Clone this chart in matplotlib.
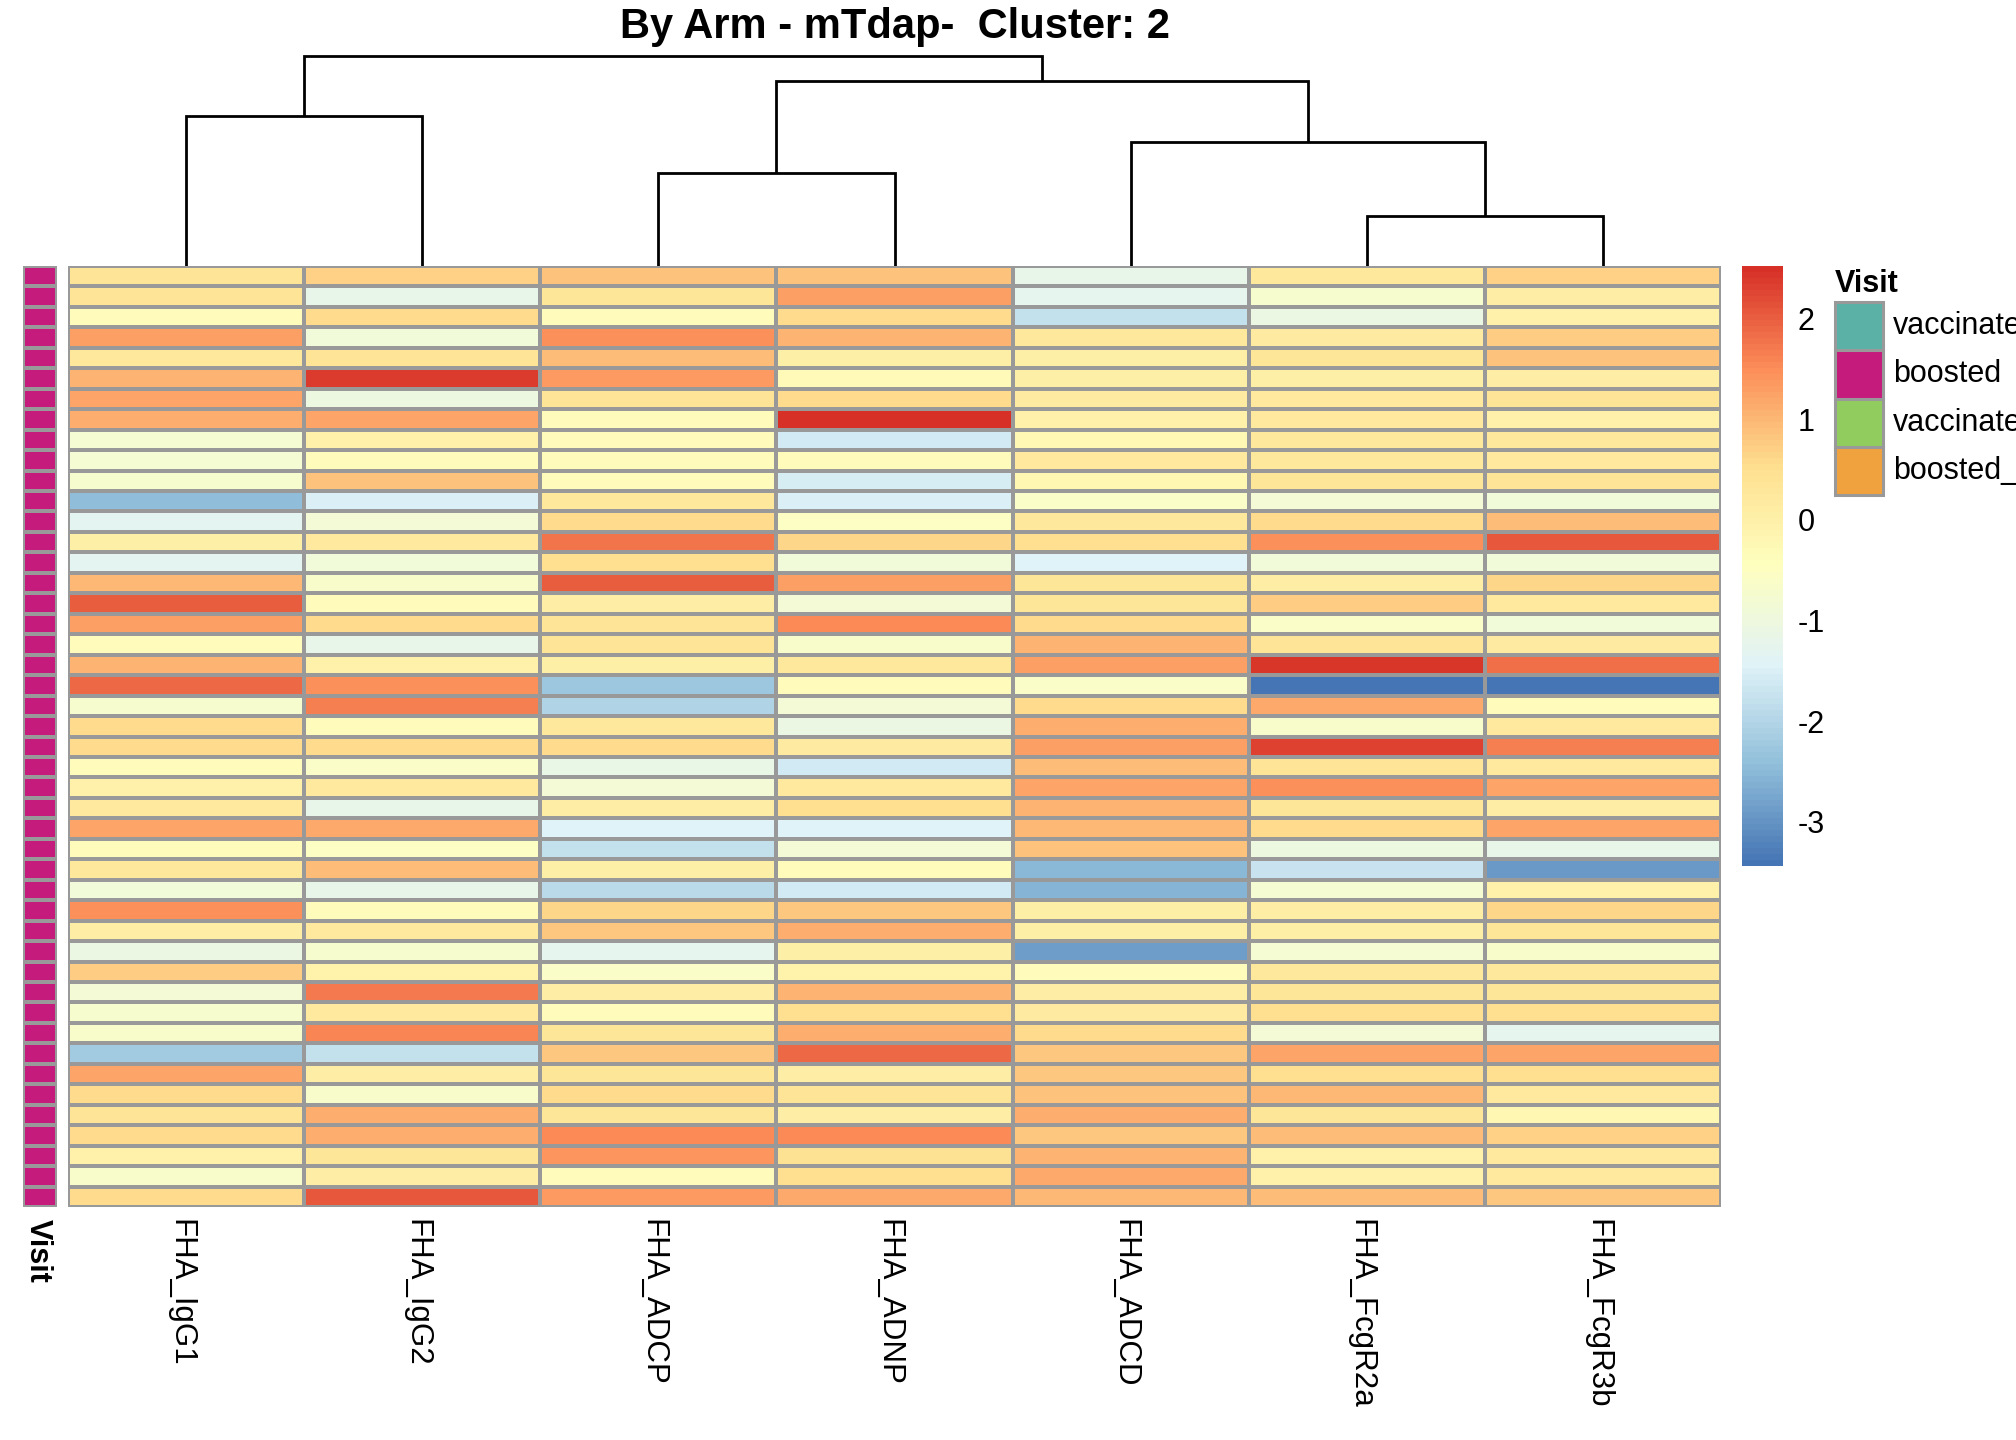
import matplotlib
matplotlib.use("Agg")
import matplotlib.pyplot as plt
import numpy as np
from matplotlib.colors import LinearSegmentedColormap, ListedColormap
from matplotlib.patches import Rectangle

plt.rcParams['font.family'] = ['Liberation Sans', 'DejaVu Sans']

# ---------------- data ----------------
columns = ["FHA_IgG1", "FHA_IgG2", "FHA_ADCP", "FHA_ADNP", "FHA_ADCD", "FHA_FcgR2a", "FHA_FcgR3b"]

fha_igg1 = [0.4, 0.4, -0.4, 1.3, 0.3, 1.05, 1.25, 1.1, -0.8, -0.8,
            -0.7, -2.45, -1.3, 0.05, -1.3, 1.0, 2.0, 1.3, -0.35, 1.05,
            1.9, -0.75, 0.6, 0.6, -0.4, 0.0, 0.2, 1.25, -0.4, 0.3,
            -0.9, 1.5, 0.1, -1.1, 0.75, -0.85, -0.75, -0.65, -2.2, 1.25,
            0.6, 0.4, 0.6, 0.0, -0.65, 0.6]
fha_igg2 = [0.7, -1.2, 0.6, -0.9, 0.4, 2.4, -1.0, 1.25, 0.0, -0.35,
            0.9, -1.5, -0.85, 0.25, -0.9, -0.65, -0.35, 0.6, -1.2, 0.0,
            1.45, 1.65, -0.4, 0.6, -0.6, 0.25, -1.2, 1.15, -0.55, 0.95,
            -1.2, -0.4, 0.25, -0.75, -0.1, 1.7, 0.2, 1.6, -1.8, 0.1,
            -0.65, 1.1, 1.1, 0.35, 0.1, 2.1]
fha_adcp = [0.9, 0.35, -0.35, 1.5, 0.95, 1.35, 0.4, -0.35, -0.35, -0.4,
            -0.35, 0.3, 0.6, 1.8, 0.5, 2.0, 0.1, 0.4, 0.4, 0.05,
            -2.3, -2.05, 0.3, 0.6, -1.15, -0.85, 0.1, -1.45, -1.8, 0.05,
            -1.9, 0.65, 0.85, -1.25, -0.6, 0.1, -0.35, 0.35, 0.85, 0.35,
            0.6, 0.35, 1.55, 1.4, -0.4, 1.35]
fha_adnp = [0.9, 1.3, 0.6, 1.05, 0.05, -0.3, 0.6, 2.52, -1.65, -0.35,
            -1.55, -1.5, -0.55, 0.65, -0.9, 1.3, -0.85, 1.55, -0.65, 0.3,
            -0.4, -0.85, -1.1, 0.15, -1.65, 0.2, 0.55, -1.45, -0.85, -0.4,
            -1.65, 0.85, 1.1, 0.05, -0.1, 1.05, 0.5, 1.1, 1.9, 0.1,
            0.4, 0.1, 1.55, 0.45, 0.55, 1.15]
fha_adcd = [-1.2, -1.25, -1.8, 0.3, 0.05, 0.05, 0.15, 0.0, -0.25, 0.25,
            -0.2, -0.6, 0.3, 0.5, -1.45, 0.35, 0.35, 0.6, 1.05, 1.3,
            -0.6, 0.6, 1.1, 1.3, 0.95, 1.25, 1.05, 1.0, 0.9, -2.5,
            -2.6, 0.05, 0.05, -2.85, -0.4, 0.1, 0.15, 0.6, 0.85, 0.8,
            0.9, 1.1, 0.85, 1.05, 1.15, 1.0]
fha_fcgr2a = [0.3, -0.7, -1.1, 0.15, 0.35, 0.05, 0.2, 0.2, 0.3, 0.3,
              0.35, -0.85, 0.6, 1.45, -0.9, 0.1, 0.75, -0.6, 0.4, 2.45,
              -3.44, 1.2, -0.65, 2.3, 0.4, 1.45, 0.35, 0.6, -1.0, -1.75,
              -0.8, 0.1, 0.05, -0.8, 0.3, 0.35, 0.5, -0.85, 1.25, 0.5,
              1.0, 0.35, 0.95, 0.0, 0.0, 0.95]
fha_fcgr3b = [0.7, 0.1, 0.0, 0.75, 0.9, 0.1, 0.4, 0.0, 0.3, 0.25,
              0.4, -0.9, 0.95, 2.05, -0.9, 0.65, 0.2, -0.9, 0.15, 1.85,
              -3.42, -0.4, 0.2, 1.65, 0.2, 1.25, 0.1, 1.25, -1.2, -2.95,
              0.0, 0.65, 0.35, -0.65, 0.3, 0.35, 0.5, -1.25, 1.25, 0.5,
              0.2, -0.2, 0.7, 0.25, 0.25, 0.85]

visit_levels = ["vaccinated", "boosted", "vaccinated_2", "boosted_2"]
visit_colors = ["#5BB1A6", "#C51B7D", "#91CC5E", "#F0A23F"]
visit = ["boosted"] * 46

# dendrogram merges: (left, right, height); negative = leaf index, positive = earlier merge (1-based)
merge_left = [-1, -3, -6, -5, 2, 1]
merge_right = [-2, -4, -7, 3, 4, 5]
merge_height = [150, 93, 50, 124, 185, 210]

colorbar_ticks = [-3, -2, -1, 0, 1, 2]
title = "By Arm - mTdap-  Cluster: 2"

# ---------------- figure ----------------
W, H = 2016, 1440
fig = plt.figure(figsize=(W / 100, H / 100), dpi=100)

def px_axes(x0, y0, x1, y1):
    return fig.add_axes([x0 / W, 1 - y1 / H, (x1 - x0) / W, (y1 - y0) / H])

mat = np.array([fha_igg1, fha_igg2, fha_adcp, fha_adnp, fha_adcd, fha_fcgr2a, fha_fcgr3b]).T
nrow, ncol = mat.shape
vmin, vmax = mat.min(), mat.max()
rdylbu7 = ["#4575B4", "#91BFDB", "#E0F3F8", "#FFFFBF", "#FEE090", "#FC8D59", "#D73027"]
cmap = LinearSegmentedColormap.from_list("rdylbu_rev", rdylbu7, N=100)

HX0, HX1, HY0, HY1 = 68, 1721, 266, 1207
grid_col = "#999999"

# heatmap
ax = px_axes(HX0, HY0, HX1, HY1)
ax.pcolormesh(np.arange(ncol + 1), np.arange(nrow + 1), mat, cmap=cmap, vmin=vmin, vmax=vmax,
              edgecolors=grid_col, linewidth=1.5)
ax.set_xlim(0, ncol)
ax.set_ylim(nrow, 0)
ax.axis("off")

# annotation column
axa = px_axes(23, HY0, 57, HY1)
codes = np.array([[visit_levels.index(v)] for v in visit])
axa.pcolormesh(np.arange(2), np.arange(nrow + 1), codes, cmap=ListedColormap(visit_colors),
               vmin=-0.5, vmax=len(visit_levels) - 0.5, edgecolors=grid_col, linewidth=1.5)
axa.set_xlim(0, 1)
axa.set_ylim(nrow, 0)
axa.axis("off")

# dendrogram
axd = px_axes(HX0, 56 - 2, HX1, HY0)
nodes = []
def pos(i):
    if i < 0:
        return -i - 1 + 0.5, 0.0
    return nodes[i - 1]
for l, r, h in zip(merge_left, merge_right, merge_height):
    xl, hl = pos(l)
    xr, hr = pos(r)
    axd.plot([xl, xl, xr, xr], [hl, h, h, hr], color="black", lw=2.0, solid_capstyle="butt",
             solid_joinstyle="miter")
    nodes.append(((xl + xr) / 2, h))
axd.set_xlim(0, ncol)
axd.set_ylim(0, max(merge_height) + 2 * (max(merge_height) / (266 - 56)))
axd.axis("off")

# column labels
for j, name in enumerate(columns):
    x = HX0 + (j + 0.5) * (HX1 - HX0) / ncol - 6
    fig.text(x / W, 1 - 1219 / H, name, rotation=270, ha="center", va="top", fontsize=22.5)
fig.text(38 / W, 1 - 1219 / H, "Visit", rotation=270, ha="center", va="top", fontsize=22,
         fontweight="bold")

# title
fig.text((HX0 + HX1) / 2 / W, 1 - 38 / H, title, ha="center", va="baseline", fontsize=30,
         fontweight="bold")

# colorbar
axc = px_axes(1742, 266, 1782, 866)
grad = np.linspace(vmin, vmax, 100).reshape(-1, 1)
axc.imshow(grad, cmap=cmap, vmin=vmin, vmax=vmax, aspect="auto", origin="lower",
           extent=[0, 1, vmin, vmax], interpolation="nearest")
axc.set_xlim(0, 1)
axc.set_ylim(vmin, vmax)
axc.set_xticks([])
axc.yaxis.tick_right()
axc.set_yticks(colorbar_ticks)
axc.set_yticklabels([str(t) for t in colorbar_ticks], fontsize=22)
axc.tick_params(axis="y", length=0, pad=11.5)
for s in axc.spines.values():
    s.set_visible(False)

# legend
axl = fig.add_axes([0, 0, 1, 1], facecolor="none")
axl.set_xlim(0, W)
axl.set_ylim(H, 0)
axl.axis("off")
axl.text(1835, 292, "Visit", fontsize=22, fontweight="bold", ha="left", va="baseline")
box_h = 48.3
for k, (lab, col) in enumerate(zip(visit_levels, visit_colors)):
    y0 = 302 + k * box_h
    axl.add_patch(Rectangle((1835, y0), 48, box_h, facecolor=col, edgecolor="none"))
    axl.text(1893, y0 + box_h / 2, lab, fontsize=22, ha="left", va="center")
axl.add_patch(Rectangle((1835, 302), 48, 4 * box_h, facecolor="none", edgecolor=grid_col, lw=2.2))
for k in range(1, 4):
    axl.plot([1835, 1883], [302 + k * box_h] * 2, color=grid_col, lw=2.2)

fig.savefig("out.png", dpi=100)
